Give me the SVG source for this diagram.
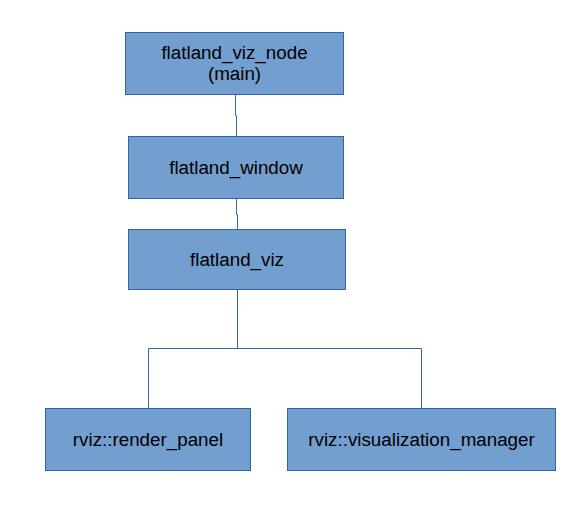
<svg xmlns="http://www.w3.org/2000/svg" width="569" height="507" viewBox="0 0 569 507">
<style>
.box{fill:#729fcf;stroke:#3465a4;stroke-width:1}
.lbl{font-family:"Liberation Sans",Arial,sans-serif;font-size:18.8px;fill:#000;text-anchor:middle}
.conn{fill:none;stroke:#3465a4;stroke-width:1}
</style>
<rect width="569" height="507" fill="#fff"/>
<g id="connectors">
<path class="conn" d="M235.5 94 V115.5 H236.5 V137"/>
<path class="conn" d="M236.5 199 V214.5 H237.5 V229"/>
<path class="conn" d="M237.5 289 V348.5 M148.5 408 V348.5 H421.5 V408"/>
</g>
<g id="flatland_viz_node">
<rect class="box" x="125.5" y="32.5" width="218" height="62"/>
<text class="lbl" x="234.5" y="59">flatland_viz_node</text>
<text class="lbl" x="234.5" y="80">(main)</text>
</g>
<g id="flatland_window">
<rect class="box" x="128.5" y="136.5" width="215" height="62"/>
<text class="lbl" x="236" y="174">flatland_window</text>
</g>
<g id="flatland_viz">
<rect class="box" x="128.5" y="229.5" width="217" height="60"/>
<text class="lbl" x="237" y="266">flatland_viz</text>
</g>
<g id="render_panel">
<rect class="box" x="45.5" y="408.5" width="205" height="62"/>
<text class="lbl" x="148" y="446">rviz::render_panel</text>
</g>
<g id="visualization_manager">
<rect class="box" x="287.5" y="408.5" width="268" height="62"/>
<text class="lbl" x="421.5" y="446">rviz::visualization_manager</text>
</g>
</svg>
